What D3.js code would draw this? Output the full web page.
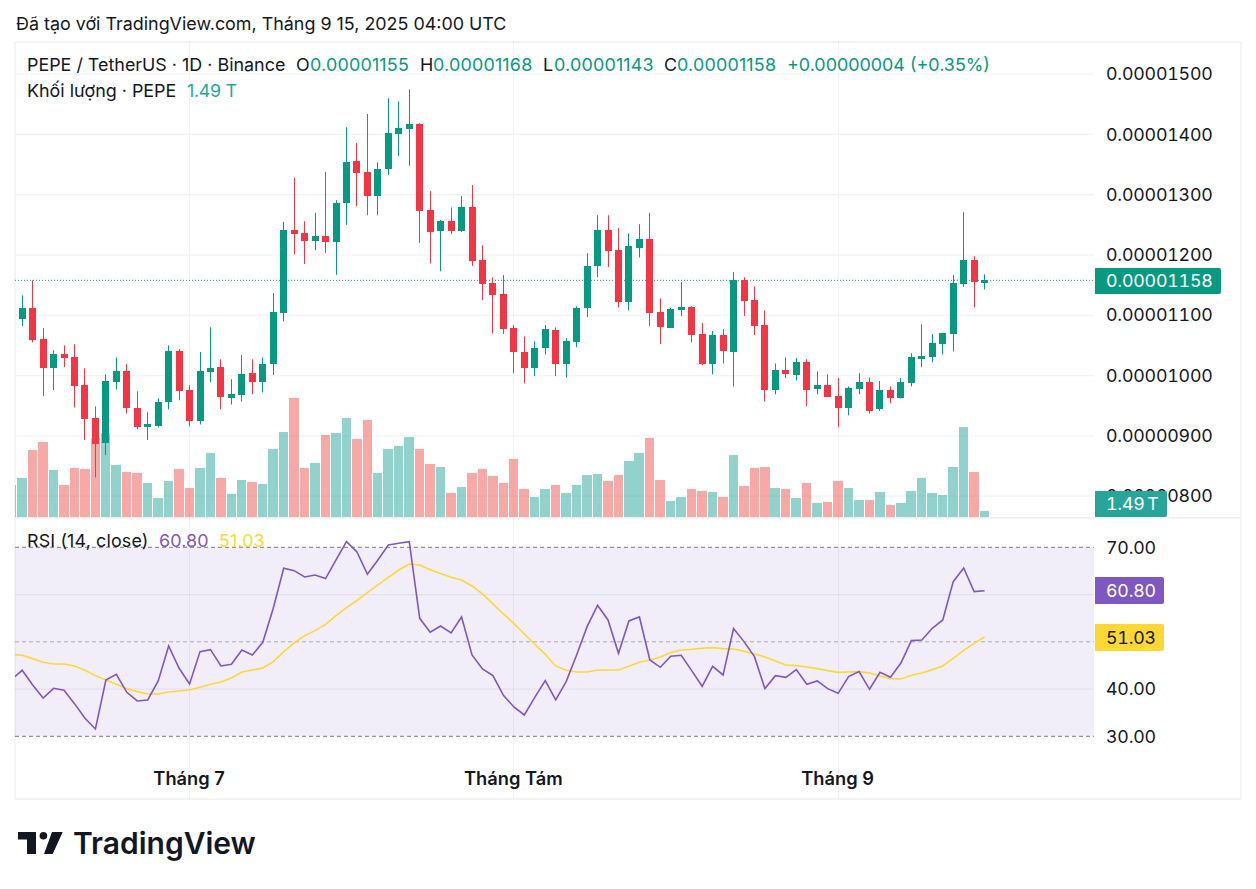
<!DOCTYPE html>
<html>
<head>
<meta charset="utf-8">
<style>
  html, body { margin: 0; padding: 0; background: #fff; }
  svg { display: block; }
  text { font-family: Inter, "Noto Sans", sans-serif; fill: #131722; }
</style>
<script src="https://cdnjs.cloudflare.com/ajax/libs/d3/7.8.5/d3.min.js"></script>
</head>
<body>
<div id="chart"></div>
<script>
// prices are in units of 0.00000001 USDT, one entry per day from 15 June 2025
const opens = [1094,1112,1060,1012,1035,1030,984,929,888,989,1007,947,914,916,956,1040,976,924,1006,1014,962,967,1004,989,1019,1103,1241,1236,1223,1231,1221,1286,1356,1338,1298,1343,1401,1409,1417,1274,1240,1256,1240,1279,1191,1153,1135,1079,1039,1012,1045,1075,1019,1055,1112,1182,1241,1208,1122,1211,1226,1105,1079,1108,1113,1069,1020,1067,1039,1158,1125,1084,976,1009,1001,1022,977,984,966,946,977,989,944,976,962,987,1029,1030,1052,1069,1152,1191,1155];
const highs = [1133,1158,1079,1042,1050,1052,1012,949,1002,1030,1019,974,939,962,1050,1044,984,1039,1080,1027,994,1034,1027,1030,1137,1255,1328,1256,1270,1338,1291,1412,1386,1434,1354,1460,1455,1475,1419,1306,1258,1279,1298,1316,1216,1163,1167,1084,1065,1057,1084,1080,1062,1115,1203,1266,1266,1245,1236,1251,1270,1128,1112,1155,1115,1087,1074,1077,1172,1163,1148,1108,1020,1030,1029,1027,1007,1002,996,982,1004,997,991,982,996,1037,1085,1069,1070,1167,1271,1198,1168];
const lows = [1082,1055,966,976,1014,947,893,831,868,977,937,911,893,914,944,959,916,919,989,944,952,957,969,972,1001,1090,1201,1185,1208,1203,1167,1250,1281,1266,1266,1333,1364,1348,1220,1186,1173,1235,1238,1182,1125,1070,1069,1004,987,999,1035,999,997,1047,1097,1163,1180,1113,1108,1196,1082,1052,1079,1099,1055,1017,1002,1020,982,1099,1067,957,969,996,992,949,969,964,914,934,969,937,941,954,962,982,1014,1022,1035,1040,1147,1113,1143];
const closes = [1112,1059,1012,1035,1029,982,928,886,991,1007,946,914,919,956,1040,974,924,1007,1012,964,969,1002,989,1020,1105,1241,1235,1223,1231,1221,1286,1354,1336,1298,1343,1402,1411,1417,1273,1238,1256,1240,1279,1190,1152,1133,1077,1039,1012,1045,1077,1019,1057,1112,1182,1241,1206,1122,1215,1226,1103,1080,1110,1113,1067,1020,1067,1040,1158,1123,1082,976,1009,1002,1022,976,984,964,946,979,989,942,976,962,989,1030,1032,1054,1070,1153,1191,1155,1158];

// these three start one day earlier (14 June), that day is cut by the left edge
const volumes = [7.95,9.69,16.64,18.63,11.67,7.95,12.17,11.92,19.62,20.87,12.92,11.18,10.93,8.45,4.72,8.94,11.92,7.20,12.17,15.90,9.69,5.71,9.19,8.69,8.20,16.89,21.11,29.56,12.17,13.41,20.37,20.87,24.59,19.38,24.09,10.93,16.89,17.64,19.87,16.89,13.17,12.42,5.96,7.45,10.93,11.92,10.18,8.45,14.41,6.96,4.97,6.96,7.95,5.96,7.95,10.43,10.68,8.94,10.43,13.91,15.90,19.62,9.19,3.97,4.97,6.96,6.46,6.21,4.97,15.40,7.70,12.17,12.42,7.20,6.96,4.72,8.45,3.48,3.73,8.94,7.20,4.22,4.22,6.21,2.98,3.48,6.46,9.69,5.96,5.46,12.42,22.36,11.18,1.49];
const rsi = [42.06,43.97,40.86,38.11,40.16,39.74,36.91,33.81,31.55,41.92,43.12,39.31,37.48,37.69,41.71,49.12,44.39,41.08,47.92,48.34,44.89,45.24,48.27,47.21,49.89,57.09,65.56,65.06,63.72,64.14,63.37,67.32,71.20,69.01,64.29,67.32,70.49,70.85,71.20,54.97,52.01,53.35,51.87,55.26,47.21,44.25,42.84,38.68,36.21,34.51,38.25,41.78,37.69,41.57,47.21,53.21,57.72,54.62,47.57,54.41,55.26,46.16,44.60,46.93,47.14,43.90,40.58,44.81,42.98,52.79,50.04,46.86,40.09,42.84,42.49,44.11,41.01,41.71,40.09,39.10,42.63,43.69,39.95,43.54,42.49,45.52,50.25,50.39,52.86,54.62,62.73,65.63,60.62,60.80];
const rsiMa = [47.35,47.14,46.44,45.66,45.31,45.31,44.89,43.97,42.84,41.92,41.01,40.09,39.45,38.96,38.96,39.38,39.59,39.81,40.37,41.01,41.50,42.35,43.62,44.04,44.46,45.80,47.92,49.75,51.31,52.36,53.70,55.54,57.23,58.78,60.41,62.03,63.65,65.20,66.47,66.26,65.27,64.43,63.65,63.09,61.82,60.12,58.01,55.89,53.91,51.66,49.47,47.35,44.89,43.97,43.62,43.62,44.04,44.04,44.04,44.81,45.66,46.16,46.79,47.71,48.27,48.41,48.62,48.77,48.55,48.48,47.99,47.43,46.79,45.94,45.10,44.96,44.67,44.32,43.90,43.54,43.62,43.69,43.40,42.77,42.20,42.13,42.91,43.40,44.11,44.89,46.51,48.20,49.68,51.03];

const priceTicks = [1500,1400,1300,1200,1100,1000,900,800];
const rsiLabelTicks = [70,40,30];
const rsiGridTicks = [60,40];
const rsiDashTicks = [70,50,30];
const monthTicks = [new Date(Date.UTC(2025,6,1)), new Date(Date.UTC(2025,7,1)), new Date(Date.UTC(2025,8,1))];
const monthLabels = ["Tháng 7","Tháng Tám","Tháng 9"];

const firstDay = new Date(Date.UTC(2025,5,15));
const lastDay = new Date(Date.UTC(2025,8,15));
const lastPrice = 1158;

const width = 1256, height = 889;
const left = 15, right = 1094, frameRight = 1241;
const greenCol = "#089981", redCol = "#f23645";
const volGreen = "rgba(38,166,154,0.5)", volRed = "rgba(239,83,80,0.5)";
const rsiCol = "#7e57c2", maCol = "#fdd835";
const gridCol = "#f3f3f4";

var svg = d3.select("#chart").append("svg")
    .attr("width", width)
    .attr("height", height)

svg.append("clipPath").attr("id", "plot-clip")
  .append("rect").attr("x", left).attr("y", 42).attr("width", right-left).attr("height", 757)

var x = d3.scaleUtc().domain([firstDay, lastDay]).range([22.2, 984.6]);
var y = d3.scaleLinear().domain([800, 1500]).range([496.1, 74.2]);
var yVol = d3.scaleLinear().domain([0, 30]).range([517, 396.2]);
var yRsi = d3.scaleLinear().domain([30, 70]).range([736.3, 547.3]);

const day = i => d3.utcDay.offset(firstDay, i);
const crisp = v => Math.round(v) + 0.5;

// frame
svg.append("rect").attr("x", 15).attr("y", 42).attr("width", frameRight-15).attr("height", 757)
    .attr("fill", "none").attr("stroke", "#f3f3f4").attr("stroke-width", 2)
svg.append("line").attr("x1", 15).attr("x2", frameRight).attr("y1", 517.7).attr("y2", 517.7)
    .attr("stroke", "#eeeeef").attr("stroke-width", 1.5)

var plot = svg.append("g").attr("clip-path", "url(#plot-clip)");

// rsi band, behind the grid
plot.append("rect").attr("x", left).attr("width", right-left)
    .attr("y", yRsi(70)).attr("height", yRsi(30)-yRsi(70))
    .attr("fill", "rgba(126,87,194,0.1)")

// month lines
plot.selectAll("line.month").data(monthTicks).enter().append("line")
    .attr("class", "month")
    .attr("x1", d => crisp(x(d)-0.5)).attr("x2", d => crisp(x(d)-0.5))
    .attr("y1", 42).attr("y2", 799)
    .attr("stroke", "rgba(40,40,70,0.06)")

plot.selectAll("line.pgrid").data(priceTicks).enter().append("line")
    .attr("class", "pgrid")
    .attr("x1", left).attr("x2", right)
    .attr("y1", d => y(d)).attr("y2", d => y(d))
    .attr("stroke", gridCol).attr("stroke-width", 1.3)

plot.selectAll("line.rgrid").data(rsiGridTicks).enter().append("line")
    .attr("class", "rgrid")
    .attr("x1", left).attr("x2", right)
    .attr("y1", d => yRsi(d)).attr("y2", d => yRsi(d))
    .attr("stroke", "rgba(40,40,70,0.07)").attr("stroke-width", 1.3)

plot.selectAll("line.rdash").data(rsiDashTicks).enter().append("line")
    .attr("class", "rdash")
    .attr("x1", left).attr("x2", right)
    .attr("y1", d => yRsi(d)).attr("y2", d => yRsi(d))
    .attr("stroke", "#787b86")
    .attr("stroke-opacity", d => d == 50 ? 0.6 : 1)
    .attr("stroke-dasharray", "4 3")

// volume
plot.selectAll("rect.vol").data(volumes).enter().append("rect")
    .attr("class", "vol")
    .attr("x", (d,i) => Math.round(x(day(i-1))-4.9))
    .attr("width", (d,i) => Math.round(x(day(i-1))+4.6) - Math.round(x(day(i-1))-4.9))
    .attr("y", d => yVol(d))
    .attr("height", d => yVol(0)-yVol(d))
    .attr("fill", (d,i) => (i > 0 && closes[i-1] >= opens[i-1]) ? volGreen : volRed)

// last price line
plot.append("line").attr("x1", left).attr("x2", right)
    .attr("y1", y(lastPrice)).attr("y2", y(lastPrice))
    .attr("stroke", greenCol).attr("stroke-dasharray", "1 2")

// candles
const candleCol = i => closes[i] >= opens[i] ? greenCol : redCol;
const bodyTop = i => Math.round(y(Math.max(opens[i], closes[i])));
const bodyBottom = i => Math.max(Math.round(y(Math.min(opens[i], closes[i]))), bodyTop(i)+3);

plot.selectAll("rect.wick").data(closes).enter().append("rect")
    .attr("class", "wick")
    .attr("x", (d,i) => Math.floor(x(day(i))))
    .attr("width", 1)
    .attr("y", (d,i) => y(highs[i]))
    .attr("height", (d,i) => y(lows[i])-y(highs[i]))
    .attr("fill", (d,i) => candleCol(i))

plot.selectAll("rect.body").data(closes).enter().append("rect")
    .attr("class", "body")
    .attr("x", (d,i) => Math.round(x(day(i))-3.5))
    .attr("width", 7)
    .attr("y", (d,i) => bodyTop(i))
    .attr("height", (d,i) => bodyBottom(i)-bodyTop(i))
    .attr("fill", (d,i) => candleCol(i))

// rsi lines
var rsiLine = d3.line().x((d,i) => x(day(i-1))).y(d => yRsi(d));

plot.append("path").datum(rsiMa).attr("d", rsiLine)
    .attr("fill", "none").attr("stroke", maCol).attr("stroke-width", 1.6)
plot.append("path").datum(rsi).attr("d", rsiLine)
    .attr("fill", "none").attr("stroke", rsiCol).attr("stroke-width", 1.6)

// axes
const axisFont = 17.8, axisSpacing = "-0.2px";

var priceAxis = svg.append("g")
    .attr("transform", "translate(1094,0)")
    .call(d3.axisRight(y).tickValues(priceTicks).tickSize(0).tickPadding(12)
      .tickFormat(d => (d*1e-8).toFixed(8)))
priceAxis.select("path.domain").remove()
priceAxis.selectAll("text").style("font-size", axisFont+"px").style("font-family", "Inter")
    .style("letter-spacing", axisSpacing).style("font-variant-numeric", "tabular-nums").attr("fill", "#131722")

var rsiAxis = svg.append("g")
    .attr("transform", "translate(1094,0)")
    .call(d3.axisRight(yRsi).tickValues(rsiLabelTicks).tickSize(0).tickPadding(12)
      .tickFormat(d3.format(".2f")))
rsiAxis.select("path.domain").remove()
rsiAxis.selectAll("text").style("font-size", axisFont+"px").style("font-family", "Inter")
    .style("letter-spacing", axisSpacing).style("font-variant-numeric", "tabular-nums").attr("fill", "#131722")

var timeAxis = svg.append("g")
    .attr("transform", "translate(0,772)")
    .call(d3.axisBottom(x).tickValues(monthTicks).tickSize(0).tickPadding(0)
      .tickFormat((d,i) => monthLabels[i]))
timeAxis.select("path.domain").remove()
timeAxis.selectAll("text").style("font-size", "18.3px").style("font-family", "Inter")
    .style("font-weight", 600).attr("dx", -1).attr("dy", "0.72em").attr("fill", "#131722")

// price scale tags
function tag(y0, y1, w, col, txt, txtCol, radius) {
  var g = svg.append("g");
  g.append("path")
    .attr("d", "M1095," + y0 + "H" + (1095+w-radius) + "Q" + (1095+w) + "," + y0 + " " + (1095+w) + "," + (y0+radius)
      + "V" + (y1-radius) + "Q" + (1095+w) + "," + y1 + " " + (1095+w-radius) + "," + y1 + "H1095Z")
    .attr("fill", col)
  g.append("text").attr("x", 1106).attr("y", (y0+y1)/2).attr("dy", "0.35em")
    .style("font-size", axisFont+"px").style("letter-spacing", axisSpacing).style("word-spacing", "-2px")
    .style("font-variant-numeric", "tabular-nums").style("fill", txtCol).text(txt)
}
tag(268, 294, 126, greenCol, (lastPrice*1e-8).toFixed(8), "#fff", 2);
tag(491, 517, 72, "#26a69a", "1.49 T", "#fff", 2);
tag(577, 604, 69, rsiCol, "60.80", "#fff", 2);
tag(624, 651, 69, maCol, "51.03", "#131722", 2);

// legends, one row per list: x, text, colour, letter spacing
const legendFont = 17.9;
function legendRow(yPos, items) {
  items.forEach(function(it) {
    svg.append("text").attr("x", it[0]).attr("y", yPos).attr("dy", "0.35em")
      .style("font-size", legendFont+"px").style("fill", it[2] || "#131722")
      .style("letter-spacing", (it[3] || 0)+"px").text(it[1])
  })
}
svg.append("text").attr("x", 16).attr("y", 24).attr("dy", "0.35em")
    .style("font-size", legendFont+"px").text("Đã tạo với TradingView.com, Tháng 9 15, 2025 04:00 UTC")

legendRow(65, [
  [27, "PEPE / TetherUS · 1D · Binance"],
  [296, "O"], [310, "0.00001155", greenCol, 0.2],
  [420, "H"], [433, "0.00001168", greenCol, 0.2],
  [543, "L"], [554, "0.00001143", greenCol, 0.2],
  [664, "C"], [677, "0.00001158", greenCol, 0.2],
  [787, "+0.00000004 (+0.35%)", greenCol]
]);
legendRow(90.5, [[27, "Khối lượng · PEPE"], [187, "1.49 T", "#22ab94", -0.3]]);
legendRow(541, [[27, "RSI (14, close)", null, 0.15], [159, "60.80", rsiCol, 0.1], [219, "51.03", maCol, 0.1]]);

// logo
var logo = svg.append("g").attr("fill", "#131722");
logo.append("path").attr("d", "M18,832H36V854H27V839.5H18Z")
logo.append("circle").attr("cx", 43.4).attr("cy", 835.7).attr("r", 3.8)
logo.append("path").attr("d", "M52,832H62.7L52.7,854H44Z")
svg.append("text").attr("x", 73).attr("y", 854)
    .style("font-size", "30px").style("font-weight", 600).text("TradingView")
</script>
</body>
</html>
